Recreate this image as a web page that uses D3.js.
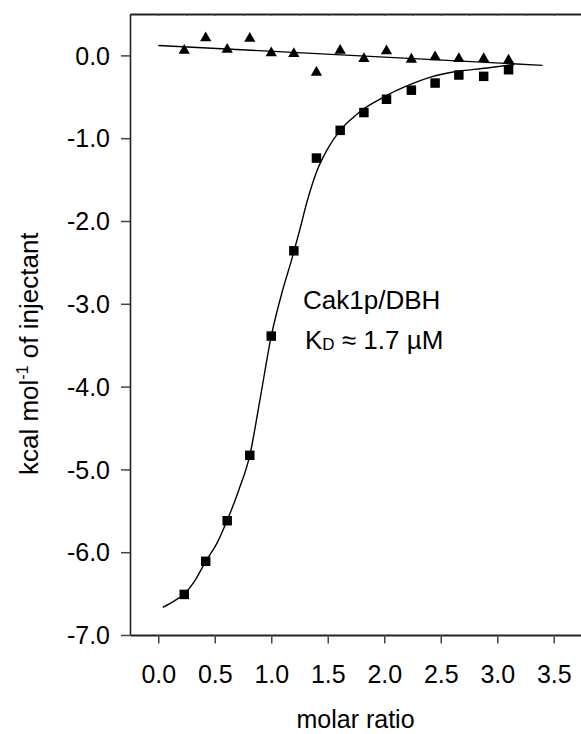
<!DOCTYPE html>
<html>
<head>
<meta charset="utf-8">
<script src="https://cdn.jsdelivr.net/npm/d3@7"></script>
<style>
  body { margin: 0; background: #fff; }
  svg text { font-family: "Liberation Sans", Arial, sans-serif; fill: #000; }
</style>
</head>
<body>
<svg id="chart" width="581" height="734"></svg>
<script>
// injection points (molar ratio) and heats
var ratioX = [0.23, 0.42, 0.61, 0.81, 1.00, 1.20, 1.40, 1.61, 1.82, 2.02, 2.24, 2.45, 2.66, 2.88, 3.10];
var cak1pHeat = [-6.51, -6.11, -5.62, -4.83, -3.39, -2.36, -1.24, -0.905, -0.69, -0.53, -0.42, -0.334, -0.237, -0.253, -0.173];
var controlHeat = [0.06, 0.21, 0.07, 0.205, 0.03, 0.02, -0.205, 0.06, -0.04, 0.052, -0.048, -0.02, -0.04, -0.04, -0.06];

// fitted binding curve
var fitX = [0.04, 0.14, 0.23, 0.33, 0.42, 0.52, 0.61, 0.71, 0.81, 0.905, 1.00, 1.10, 1.18, 1.25, 1.32, 1.40, 1.49, 1.61, 1.73, 1.82, 1.97, 2.11, 2.26, 2.41, 2.61, 2.91, 3.15];
var fitY = [-6.665, -6.59, -6.505, -6.33, -6.11, -5.89, -5.615, -5.26, -4.83, -4.12, -3.39, -2.84, -2.47, -2.12, -1.75, -1.41, -1.15, -0.905, -0.744, -0.644, -0.523, -0.422, -0.334, -0.262, -0.20, -0.153, -0.11];

// control baseline
var baseX = [0.0, 3.40];
var baseY = [0.12, -0.12];

var xMajor = [0, 0.5, 1, 1.5, 2, 2.5, 3, 3.5];
var xMinor = [-0.25, 0.25, 0.75, 1.25, 1.75, 2.25, 2.75, 3.25, 3.75];
var yMajor = [0, -1, -2, -3, -4, -5, -6, -7];
var yMinor = [0.5, -0.5, -1.5, -2.5, -3.5, -4.5, -5.5, -6.5];

var svg = d3.select("#chart");

var x = d3.scaleLinear().domain([-0.25, 3.75]).range([130, 582]);
var y = d3.scaleLinear().domain([-7, 0.5]).range([635, 14]);

var fmt = function(d) { return d.toFixed(1); };

// top frame line with tiny inward ticks
svg.append("g")
    .attr("transform", "translate(0," + y(0.5) + ")")
    .call(d3.axisBottom(x).tickValues(xMajor.concat(xMinor)).tickSize(2).tickFormat("").tickSizeOuter(0))
    .call(function(g) {
      g.select(".domain").attr("stroke", "#222").attr("stroke-width", 2);
      g.selectAll(".tick line").attr("stroke", "#444");
    });

// x axis
var gx = svg.append("g").attr("transform", "translate(0," + y(-7) + ")");
gx.call(d3.axisBottom(x).tickValues(xMinor).tickSize(4.5).tickFormat("").tickSizeOuter(0));
gx.call(d3.axisBottom(x).tickValues(xMajor).tickSize(8.5).tickFormat(fmt).tickSizeOuter(0));
gx.selectAll(".domain").attr("stroke", "#222").attr("stroke-width", 2);
gx.selectAll(".tick line").attr("stroke", "#444").attr("stroke-width", 1.5);
gx.selectAll(".tick text").attr("y", 47.5).attr("dy", null)
    .style("font-size", "25px");

// y axis
var gy = svg.append("g").attr("transform", "translate(" + x(-0.25) + ",0)");
gy.call(d3.axisLeft(y).tickValues(yMinor).tickSize(5).tickFormat("").tickSizeOuter(0));
gy.call(d3.axisLeft(y).tickValues(yMajor).tickSize(9).tickPadding(11).tickFormat(fmt).tickSizeOuter(0));
gy.selectAll(".domain").attr("stroke", "#222").attr("stroke-width", 1.6);
gy.selectAll(".tick line").attr("stroke", "#444").attr("stroke-width", 1.5);
gy.selectAll(".tick text").attr("dy", "0.35em").style("font-size", "25px");

// axis titles
svg.append("text")
    .attr("x", (130 + 581) / 2)
    .attr("y", 728)
    .attr("text-anchor", "middle")
    .style("font-size", "25px")
    .text("molar ratio");

var yl = svg.append("text")
    .attr("transform", "translate(38,475) rotate(-90)")
    .attr("text-anchor", "start")
    .style("font-size", "26px");
yl.append("tspan").text("kcal mol");
yl.append("tspan").attr("dy", -10).style("font-size", "16px").text("-1");
yl.append("tspan").attr("dy", 10).text(" of injectant");

// lines
var line = d3.line()
    .x(function(d) { return x(d[0]); })
    .y(function(d) { return y(d[1]); })
    .curve(d3.curveMonotoneX);

svg.append("path")
    .datum(d3.zip(baseX, baseY))
    .attr("d", line)
    .attr("fill", "none")
    .attr("stroke", "#000")
    .attr("stroke-width", 1.4);

svg.append("path")
    .datum(d3.zip(fitX, fitY))
    .attr("d", line)
    .attr("fill", "none")
    .attr("stroke", "#000")
    .attr("stroke-width", 1.4);

// markers
var sq = d3.symbol().type(d3.symbolSquare).size(90);
var tri = d3.symbol().type(d3.symbolTriangle).size(55);

svg.append("g").selectAll("path")
    .data(d3.zip(ratioX, controlHeat))
    .enter().append("path")
    .attr("transform", function(d) { return "translate(" + x(d[0]) + "," + y(d[1]) + ")"; })
    .attr("d", tri)
    .attr("fill", "#000");

svg.append("g").selectAll("path")
    .data(d3.zip(ratioX, cak1pHeat))
    .enter().append("path")
    .attr("transform", function(d) { return "translate(" + x(d[0]) + "," + y(d[1]) + ")"; })
    .attr("d", sq)
    .attr("fill", "#000");

// annotation
svg.append("text")
    .attr("x", 303)
    .attr("y", 309)
    .style("font-size", "26px")
    .text("Cak1p/DBH");

var kd = svg.append("text")
    .attr("x", 305)
    .attr("y", 349)
    .style("font-size", "26px");
kd.append("tspan").text("K");
kd.append("tspan").attr("dy", 1).style("font-size", "17px").text("D");
kd.append("tspan").attr("dy", -1).text(" \u2248 1.7 \u00b5M");
</script>
</body>
</html>
